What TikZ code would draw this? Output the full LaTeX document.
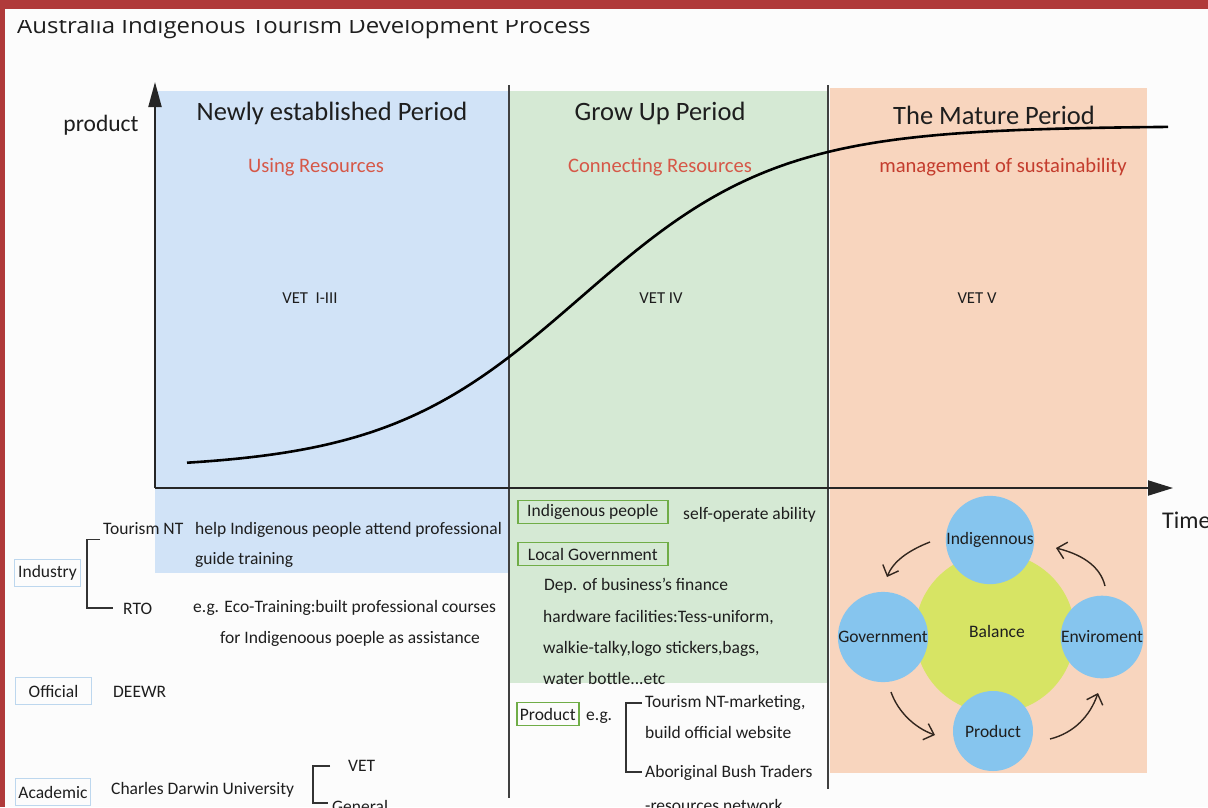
\documentclass[tikz,border=0pt]{standalone}
\usepackage{fontspec}
\setmainfont{Carlito}
\newfontfamily\titlefont[FakeStretch=1.09]{Open Sans}
\usetikzlibrary{arrows.meta}
\definecolor{bgc}{RGB}{252,252,252}
\definecolor{framec}{RGB}{176,58,58}
\definecolor{bluep}{RGB}{209,227,247}
\definecolor{greenp}{RGB}{213,233,212}
\definecolor{peachp}{RGB}{248,213,190}
\definecolor{redt}{RGB}{214,88,72}
\definecolor{redt2}{RGB}{196,60,45}
\definecolor{gbox}{RGB}{112,173,71}
\definecolor{lbbox}{RGB}{189,215,238}
\definecolor{circb}{RGB}{134,197,238}
\definecolor{balc}{RGB}{215,228,100}
\definecolor{arrc}{RGB}{50,38,30}
\definecolor{txt}{RGB}{30,30,30}
\newcommand\fsz[1]{\fontsize{#1}{#1}\selectfont}
\begin{document}
\begin{tikzpicture}[x=1pt,y=-1pt,
  t/.style={anchor=base west,inner sep=0pt,text=txt,font=\fsz{17.5}},
  tc/.style={anchor=base,inner sep=0pt,text=txt},
  ptitle/.style={tc,font=\fsz{26.5}},
  psub/.style={tc,font=\fsz{20.6},text=redt},
  vet/.style={tc,font=\fsz{16.7}},
  gboxs/.style={draw=gbox,line width=1.5pt,inner sep=0pt,minimum height=23pt,anchor=west,text=txt,font=\fsz{17.5}},
  lbboxs/.style={draw=lbbox,line width=1pt,inner sep=0pt,minimum height=27pt,anchor=west,text=txt,font=\fsz{17.5}},
  circ/.style={circle,fill=circb,minimum size=80pt,inner sep=0pt,text=txt,font=\fsz{17.5}},
  axis/.style={line width=2pt,black!85},
  divl/.style={line width=1.4pt,black!75},
  brk/.style={line width=1.3pt,black!80},
  carr/.style={line width=1.4pt,arrc,-{Straight Barb[length=9pt,width=17pt,line width=1.4pt]}}]
\useasboundingbox (0,0) rectangle (1208,807);
\fill[bgc] (0,0) rectangle (1208,807);
% panels
\fill[bluep] (155,91) rectangle (508,488);
\fill[bluep] (155,488) rectangle (508,573);
\fill[greenp] (510,91) rectangle (828,683);
\fill[peachp] (830,88) rectangle (1147,773);
% title
\begin{scope}
\clip (0,20) rectangle (1208,60);
\node[anchor=base west,inner sep=0pt,font=\titlefont\fsz{22},text=txt] (title) at (17,33) {Australia Indigenous Tourism Development Process};
\end{scope}
% frame
\fill[framec] (0,0) rectangle (1208,9);
\fill[framec] (0,0) rectangle (5,807);
% dividers
\coordinate (d1t) at (509,85); \coordinate (d1b) at (509,798);
\coordinate (d2t) at (828,85); \coordinate (d2b) at (828,789);
\draw[divl] (d1t) -- (d1b);
\draw[divl] (d2t) -- (d2b);
% axes
\coordinate (o) at (155,488);
\coordinate (ytip) at (155,82);
\coordinate (xtip) at (1173,488);
\draw[axis,-{Triangle[length=25pt,width=13pt]}] (o) -- (ytip);
\draw[axis,-{Triangle[length=25pt,width=15pt]}] (o) -- (xtip);
\node[tc,font=\fsz{23.5}] (prod) at (101,131) {product};
\node[t,font=\fsz{24}] (time) at (1162,528) {Time};
% curve
\draw[line width=2.6pt,black] plot[domain=187:1168,samples=150,smooth] (\x,{469-343/(1+exp(-(\x-580.6)/98.9))});
% period titles
\node[ptitle] (p1) at (332,120) {Newly established Period};
\node[ptitle] (p2) at (660,120) {Grow Up Period};
\node[ptitle] (p3) at (994,124) {The Mature Period};
\node[psub] (s1) at (316,172) {Using Resources};
\node[psub] (s2) at (660,172) {Connecting Resources};
\node[psub,text=redt2] (s3) at (1003,172) {management of sustainability};
\node[vet] (v1) at (310,303) {VET~ I-III};
\node[vet] (v2) at (661,303) {VET IV};
\node[vet] (v3) at (977,303) {VET V};
% left bottom
\node[lbboxs,minimum width=66pt] (ind) at (14,573) {Industry};
\node[t] (tnt) at (103,534) {Tourism NT};
\node[t] (tnt2) at (195,534) {help Indigenous people attend professional};
\node[t] (tnt3) at (195,564) {guide training};
\node[t] (rto) at (123,614) {RTO};
\node[t] (rto2) at (193,612) {e.g. Eco-Training:built professional courses};
\node[t] (rto3) at (220,643) {for Indigenoous poeple as assistance};
\draw[brk] ([xshift=-3pt,yshift=-5.5pt]tnt.base west) -- ++(-13,0) coordinate (b1) -- (b1 |- 0,608) coordinate (b2) -- ++(26,0);
\node[lbboxs,minimum width=76pt] (off) at (15,691) {Official};
\node[t] (deewr) at (113,697) {DEEWR};
\node[lbboxs,minimum width=75pt] (acad) at (15,792) {Academic};
\node[t] (cdu) at (111,794) {Charles Darwin University};
\node[t] (vet) at (348,771) {VET};
\node[t] (gen) at (332,812) {General};
\draw[brk] (330,766) -- (313,766) -- (313,803) -- (328,803);
% middle bottom
\node[gboxs,minimum width=150pt] (ip) at (517,512) {Indigenous people};
\node[t] (ip2) at (683,519) {self-operate ability};
\node[gboxs,minimum width=150pt] (lg) at (517,554) {Local Government};
\node[t] (lg1) at (544,590) {Dep. of business’s finance};
\node[t] (lg2) at (543,622) {hardware facilities:Tess-uniform,};
\node[t] (lg3) at (543,653) {walkie-talky,logo stickers,bags,};
\node[t] (lg4) at (543,684) {water bottle...etc};
\node[gboxs,minimum width=62pt] (pr) at (516,714) {Product};
\node[t] (eg) at (586,720) {e.g.};
\node[t] (pr1) at (645,707) {Tourism NT-marketing,};
\node[t] (pr2) at (645,738) {build official website};
\node[t] (pr3) at (645,777) {Aboriginal Bush Traders};
\node[t] (pr4) at (645,811) {-resources network};
\draw[brk] (642,703) -- (626,703) -- (626,772) -- (642,772);
% right circles
\node[circle,fill=balc,minimum size=160pt,inner sep=0pt] (bal) at (995,633) {};
\node[tc,font=\fsz{17.5}] (balt) at (997,637) {Balance};
\node[circ] (cind) at (990,540) {Indigennous};
\node[circ] (cgov) at (883,637) {Government};
\node[circ] (cenv) at (1102,637) {Enviroment};
\node[circ] (cpro) at (993,731) {Product};
\coordinate (a1s) at (930,542); \coordinate (a1e) at (887,577);
\coordinate (a2s) at (1105,586); \coordinate (a2e) at (1056,548);
\coordinate (a3s) at (891,692); \coordinate (a3e) at (935,735);
\coordinate (a4s) at (1050,739); \coordinate (a4e) at (1098,693);
\draw[carr] (a1s) .. controls (907,551) and (893,562) .. (a1e);
\draw[carr] (a2s) .. controls (1100,565) and (1080,554) .. (a2e);
\draw[carr] (a3s) .. controls (898,712) and (915,728) .. (a3e);
\draw[carr] (a4s) .. controls (1074,733) and (1090,716) .. (a4e);
\end{tikzpicture}
\end{document}
